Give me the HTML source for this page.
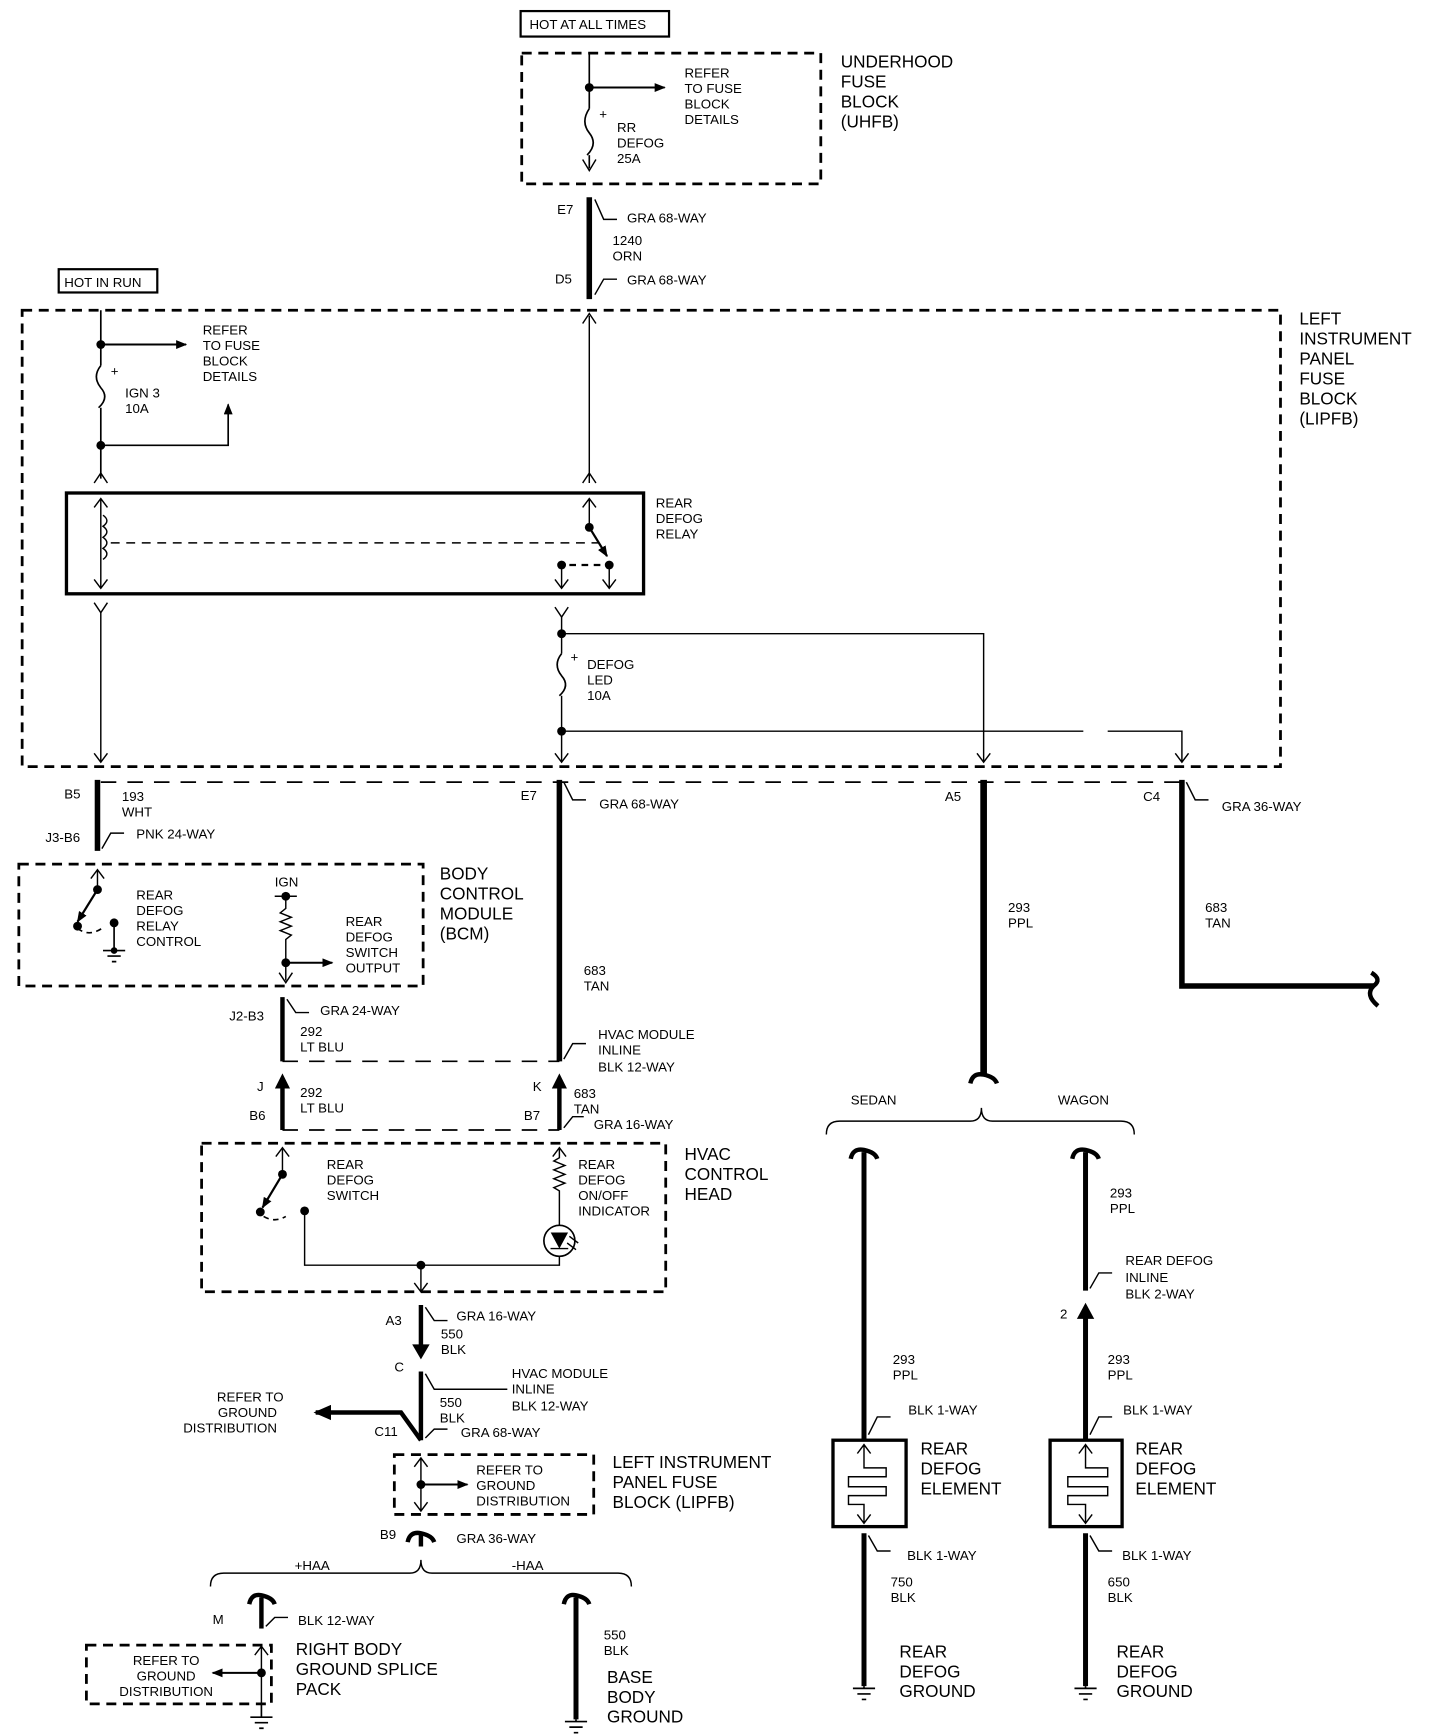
<!DOCTYPE html>
<html><head><meta charset="utf-8"><style>
html,body{margin:0;padding:0;background:#fff;}
svg{display:block}
text{font-family:"Liberation Sans",sans-serif;font-size:12px;fill:#000;}
.b{font-size:15.5px}
</style></head><body>
<svg width="1440" height="1736" viewBox="0 0 1300 1567" preserveAspectRatio="none" xmlns="http://www.w3.org/2000/svg">
<defs>
<marker id="ah" markerWidth="10" markerHeight="8" refX="9" refY="4" orient="auto" markerUnits="userSpaceOnUse"><path d="M0,0 L10,4 L0,8 Z" fill="#000"/></marker>
<marker id="bh" markerWidth="16" markerHeight="14" refX="14" refY="7" orient="auto" markerUnits="userSpaceOnUse"><path d="M0,0 L16,7 L0,14 Z" fill="#000"/></marker>
</defs>
<g fill="none" stroke="#000">
<rect x="470" y="10" width="134" height="23" stroke-width="2"/>
<rect x="471" y="48" width="270" height="118" stroke-width="2.5" stroke-dasharray="9,6"/>
<path d="M532,48 V98 M532,140 V152" stroke-width="1.5"/>
<path d="M532,98 q-8,12 0,22 q8,10 -2,20" stroke-width="1.5"/>
<path d="M532,79 H600" stroke-width="1.8" marker-end="url(#ah)"/>
<path d="M526,144 L532,154 L538,144" stroke-width="1.3"/>
<path d="M532,178 V270" stroke-width="5"/>
<path d="M537,180 l8,18 h12 M537,266 l8,-14 h12" stroke-width="1.3"/>
<rect x="53" y="243" width="89" height="21" stroke-width="2"/>
<rect x="20" y="280" width="1136" height="412" stroke-width="2.5" stroke-dasharray="9,6"/>
<path d="M91,280 V330 M91,368 V432" stroke-width="1.5"/>
<path d="M91,330 q-8,10 0,20 q8,9 -2,18" stroke-width="1.5"/>
<path d="M91,311 H168" stroke-width="1.8" marker-end="url(#ah)"/>
<path d="M91,402 H206 V365" stroke-width="1.5" marker-end="url(#ah)"/>
<path d="M85,436 L91,427 L97,436" stroke-width="1.3"/>
<path d="M532,436 V285" stroke-width="1.3"/>
<path d="M526,292 L532,283 L538,292 M526,436 L532,427 L538,436" stroke-width="1.3"/>
<rect x="60" y="445" width="521" height="91" stroke-width="3"/>
<path d="M91,450 V530 M85,458 L91,450 L97,458 M85,523 L91,531 L97,523" stroke-width="1.3"/>
<path d="M93,465 q7,5 0,10 q7,5 0,10 q7,5 0,10 q7,5 0,10" stroke-width="1.3"/>
<path d="M100,490 H540" stroke-width="1.3" stroke-dasharray="8,6"/>
<path d="M532,450 V476 M526,458 L532,450 L538,458" stroke-width="1.3"/>
<path d="M532,476 L548,502" stroke-width="2" marker-end="url(#ah)"/>
<path d="M514,510 H544" stroke-width="2" stroke-dasharray="6,5"/>
<path d="M507,510 V530 M550,510 V530 M501,523 L507,531 L513,523 M544,523 L550,531 L556,523" stroke-width="1.3"/>
<path d="M85,544 L91,553 L97,544 M501,548 L507,557 L513,548" stroke-width="1.3"/>
<path d="M91,553 V688 M85,680 L91,688 L97,680" stroke-width="1.3"/>
<path d="M507,557 V590 M507,628 V688 M501,680 L507,688 L513,680" stroke-width="1.3"/>
<path d="M507,590 q-8,10 0,20 q8,9 -2,18" stroke-width="1.5"/>
<path d="M507,572 H888 V688 M882,680 L888,688 L894,680" stroke-width="1.3"/>
<path d="M507,660 H978 M1000,660 H1067 V688 M1061,680 L1067,688 L1073,680" stroke-width="1.3"/>
<path d="M91,706 H1067" stroke-width="1.5" stroke-dasharray="14,10"/>
<path d="M88,704 V768" stroke-width="5"/>
<path d="M92,766 l8,-14 h12" stroke-width="1.3"/>
<path d="M505,704 V958" stroke-width="5"/>
<path d="M509,706 l8,16 h12 M509,956 l8,-14 h12" stroke-width="1.3"/>
<path d="M888,704 V970" stroke-width="6"/>
<path d="M876,978 q2,-10 12,-8 q10,2 12,8" stroke-width="4"/>
<path d="M1067,704 V890 H1240" stroke-width="5"/>
<path d="M1071,706 l8,16 h12" stroke-width="1.3"/>
<path d="M1238,878 q10,6 2,12 q-8,8 4,18" stroke-width="4"/>
<rect x="17" y="780" width="365" height="110" stroke-width="2.5" stroke-dasharray="9,6"/>
<path d="M88,803 V785 M82,793 L88,785 L94,793" stroke-width="1.3"/>
<path d="M88,803 L70,832" stroke-width="2" marker-end="url(#ah)"/>
<path d="M70,838 q10,8 22,0" stroke-width="1.5" stroke-dasharray="5,4"/>
<path d="M103,833 V858 M93,858 H113 M97,863 H109 M101,868 H105" stroke-width="1.5"/>
<path d="M248,809 H268 M258,809 V820 l-5,4 l10,4 l-10,4 l10,4 l-10,4 l10,4 l-5,4 V885 M252,878 L258,887 L264,878" stroke-width="1.3"/>
<path d="M258,869 H300" stroke-width="1.8" marker-end="url(#ah)"/>
<path d="M255,900 V958" stroke-width="4"/>
<path d="M259,902 l8,12 h12" stroke-width="1.3"/>
<path d="M255,958 H505" stroke-width="1.5" stroke-dasharray="14,10"/>
<path d="M255,974 V1020 M505,974 V1020" stroke-width="4"/>
<path d="M249,982 L255,970 L261,982 Z M499,982 L505,970 L511,982 Z" fill="#000" stroke-width="1"/>
<path d="M509,1018 l8,-10 h10" stroke-width="1.3"/>
<path d="M255,1020 H505" stroke-width="1.5" stroke-dasharray="14,10"/>
<rect x="182" y="1032" width="419" height="134" stroke-width="2.5" stroke-dasharray="9,6"/>
<path d="M255,1036 V1060 M249,1044 L255,1036 L261,1044" stroke-width="1.3"/>
<path d="M255,1060 L237,1090" stroke-width="2" marker-end="url(#ah)"/>
<path d="M238,1098 q10,6 20,0" stroke-width="1.5" stroke-dasharray="5,4"/>
<path d="M275,1093 V1142 H505 V1134" stroke-width="1.3"/>
<path d="M505,1036 V1045 l-5,3 l10,4 l-10,4 l10,4 l-10,4 l10,4 l-10,4 l5,3 V1106 M499,1044 L505,1036 L511,1044" stroke-width="1.3"/>
<circle cx="505" cy="1120" r="14" stroke-width="1.5"/>
<path d="M498,1113 H512 L505,1126 Z" fill="#000" stroke-width="1"/>
<path d="M497,1127 H513 M512,1122 l8,6 M514,1116 l8,6" stroke-width="1.3"/>
<path d="M380,1142 V1166 M374,1158 L380,1166 L386,1158" stroke-width="1.3"/>
<path d="M380,1178 V1222" stroke-width="4"/>
<path d="M373,1214 L380,1226 L387,1214 Z" fill="#000" stroke-width="1"/>
<path d="M384,1180 l8,12 h12" stroke-width="1.3"/>
<path d="M380,1238 V1300" stroke-width="4"/>
<path d="M384,1240 l8,14 H458 M384,1298 l8,-8 h12" stroke-width="1.3"/>
<path d="M380,1300 L362,1275 H285" stroke-width="4" marker-end="url(#bh)"/>
<rect x="356" y="1313" width="180" height="54" stroke-width="2.5" stroke-dasharray="9,6"/>
<path d="M380,1316 V1364 M374,1324 L380,1316 L386,1324 M374,1356 L380,1364 L386,1356" stroke-width="1.3"/>
<path d="M380,1340 H422" stroke-width="1.8" marker-end="url(#ah)"/>
<path d="M368,1392 q2,-10 12,-8 q10,2 12,8 M380,1384 V1396" stroke-width="4"/>
<path d="M190,1432 q0,-12 12,-12 H370 q10,0 10,-12 q0,12 10,12 H558 q12,0 12,12" stroke-width="1.3"/>
<path d="M236,1442 V1470" stroke-width="4"/>
<path d="M225,1448 q2,-10 11,-8 q10,2 12,8" stroke-width="4"/>
<path d="M240,1468 l8,-8 h12" stroke-width="1.3"/>
<rect x="78" y="1485" width="167" height="53" stroke-width="2.5" stroke-dasharray="9,6"/>
<path d="M236,1486 V1538 M230,1494 L236,1486 L242,1494" stroke-width="1.3"/>
<path d="M236,1510 H192" stroke-width="1.8" marker-end="url(#ah)"/>
<path d="M236,1538 V1550 M226,1550 H246 M230,1555 H242 M234,1560 H238" stroke-width="1.5"/>
<path d="M520,1442 V1552" stroke-width="4.5"/>
<path d="M509,1448 q2,-10 11,-8 q10,2 12,8" stroke-width="4"/>
<path d="M520,1552 V1554 M510,1554 H530 M514,1559 H526 M518,1564 H522" stroke-width="1.5"/>
<path d="M746,1024 q0,-12 12,-12 H876 q10,0 10,-12 q0,12 10,12 H1012 q12,0 12,12" stroke-width="1.3"/>
<path d="M780,1040 V1300" stroke-width="4.5"/>
<path d="M768,1046 q2,-10 12,-8 q10,2 12,8" stroke-width="4"/>
<path d="M784,1295 l8,-16 h12" stroke-width="1.3"/>
<rect x="752" y="1300" width="66" height="78" stroke-width="3"/>
<path d="M780,1304 V1325 H800 V1333 H766 V1342 H800 V1350 H766 V1358 H780 V1375 M774,1312 L780,1304 L786,1312 M774,1367 L780,1375 L786,1367" stroke-width="1.3"/>
<path d="M780,1384 V1522" stroke-width="4.5"/>
<path d="M784,1386 l8,14 h12" stroke-width="1.3"/>
<path d="M780,1522 V1524 M770,1524 H790 M774,1529 H786 M778,1534 H782" stroke-width="1.5"/>
<path d="M980,1040 V1165" stroke-width="4.5"/>
<path d="M968,1046 q2,-10 12,-8 q10,2 12,8" stroke-width="4"/>
<path d="M984,1163 l8,-14 h12" stroke-width="1.3"/>
<path d="M980,1184 V1300" stroke-width="4.5"/>
<path d="M973,1190 L980,1177 L987,1190 Z" fill="#000" stroke-width="1"/>
<path d="M984,1295 l8,-16 h12" stroke-width="1.3"/>
<rect x="948" y="1300" width="65" height="78" stroke-width="3"/>
<path d="M980,1304 V1325 H1000 V1333 H964 V1342 H1000 V1350 H964 V1358 H980 V1375 M974,1312 L980,1304 L986,1312 M974,1367 L980,1375 L986,1367" stroke-width="1.3"/>
<path d="M980,1384 V1522" stroke-width="4.5"/>
<path d="M984,1386 l8,14 h12" stroke-width="1.3"/>
<path d="M980,1522 V1524 M970,1524 H990 M974,1529 H986 M978,1534 H982" stroke-width="1.5"/>
</g>
<g fill="#000">
<circle cx="532" cy="79" r="4"/><circle cx="91" cy="311" r="4"/><circle cx="91" cy="402" r="4"/>
<circle cx="532" cy="476" r="4"/><circle cx="507" cy="510" r="4"/><circle cx="550" cy="510" r="4"/>
<circle cx="507" cy="572" r="4"/><circle cx="507" cy="660" r="4"/>
<circle cx="88" cy="803" r="4"/><circle cx="70" cy="836" r="4"/><circle cx="103" cy="833" r="4"/><circle cx="103" cy="858" r="3"/>
<circle cx="258" cy="809" r="4"/><circle cx="258" cy="869" r="4"/>
<circle cx="255" cy="1060" r="4"/><circle cx="235" cy="1094" r="4"/><circle cx="275" cy="1093" r="4"/>
<circle cx="380" cy="1142" r="4"/><circle cx="380" cy="1340" r="4"/><circle cx="236" cy="1510" r="4"/>
</g>
<text x="478" y="26">HOT AT ALL TIMES</text>
<text x="618" y="70">REFER</text><text x="618" y="84">TO FUSE</text><text x="618" y="98">BLOCK</text><text x="618" y="112">DETAILS</text>
<text x="541" y="107">+</text>
<text x="557" y="119">RR</text><text x="557" y="133">DEFOG</text><text x="557" y="147">25A</text>
<text class="b" x="759" y="61">UNDERHOOD</text><text class="b" x="759" y="79">FUSE</text><text class="b" x="759" y="97">BLOCK</text><text class="b" x="759" y="115">(UHFB)</text>
<text x="503" y="193">E7</text><text x="566" y="201">GRA 68-WAY</text>
<text x="553" y="221">1240</text><text x="553" y="235">ORN</text>
<text x="501" y="256">D5</text><text x="566" y="257">GRA 68-WAY</text>
<text x="58" y="259">HOT IN RUN</text>
<text x="183" y="302">REFER</text><text x="183" y="316">TO FUSE</text><text x="183" y="330">BLOCK</text><text x="183" y="344">DETAILS</text>
<text x="100" y="339">+</text><text x="113" y="359">IGN 3</text><text x="113" y="373">10A</text>
<text class="b" x="1173" y="293">LEFT</text><text class="b" x="1173" y="311">INSTRUMENT</text><text class="b" x="1173" y="329">PANEL</text><text class="b" x="1173" y="347">FUSE</text><text class="b" x="1173" y="365">BLOCK</text><text class="b" x="1173" y="383">(LIPFB)</text>
<text x="592" y="458">REAR</text><text x="592" y="472">DEFOG</text><text x="592" y="486">RELAY</text>
<text x="515" y="597">+</text><text x="530" y="604">DEFOG</text><text x="530" y="618">LED</text><text x="530" y="632">10A</text>
<text x="58" y="721">B5</text><text x="110" y="723">193</text><text x="110" y="737">WHT</text>
<text x="41" y="760">J3-B6</text><text x="123" y="757">PNK 24-WAY</text>
<text x="470" y="722">E7</text><text x="541" y="730">GRA 68-WAY</text>
<text x="853" y="723">A5</text><text x="1032" y="723">C4</text><text x="1103" y="732">GRA 36-WAY</text>
<text x="910" y="823">293</text><text x="910" y="837">PPL</text>
<text x="1088" y="823">683</text><text x="1088" y="837">TAN</text>
<text x="123" y="812">REAR</text><text x="123" y="826">DEFOG</text><text x="123" y="840">RELAY</text><text x="123" y="854">CONTROL</text>
<text x="248" y="800">IGN</text>
<text x="312" y="836">REAR</text><text x="312" y="850">DEFOG</text><text x="312" y="864">SWITCH</text><text x="312" y="878">OUTPUT</text>
<text class="b" x="397" y="794">BODY</text><text class="b" x="397" y="812">CONTROL</text><text class="b" x="397" y="830">MODULE</text><text class="b" x="397" y="848">(BCM)</text>
<text x="527" y="880">683</text><text x="527" y="894">TAN</text>
<text x="207" y="921">J2-B3</text><text x="289" y="916">GRA 24-WAY</text>
<text x="271" y="935">292</text><text x="271" y="949">LT BLU</text>
<text x="540" y="938">HVAC MODULE</text><text x="540" y="952">INLINE</text><text x="540" y="967">BLK 12-WAY</text>
<text x="232" y="985">J</text><text x="271" y="990">292</text><text x="271" y="1004">LT BLU</text><text x="225" y="1011">B6</text>
<text x="481" y="985">K</text><text x="518" y="991">683</text><text x="518" y="1005">TAN</text><text x="473" y="1011">B7</text><text x="536" y="1019">GRA 16-WAY</text>
<text x="295" y="1055">REAR</text><text x="295" y="1069">DEFOG</text><text x="295" y="1083">SWITCH</text>
<text x="522" y="1055">REAR</text><text x="522" y="1069">DEFOG</text><text x="522" y="1083">ON/OFF</text><text x="522" y="1097">INDICATOR</text>
<text class="b" x="618" y="1047">HVAC</text><text class="b" x="618" y="1065">CONTROL</text><text class="b" x="618" y="1083">HEAD</text>
<text x="348" y="1196">A3</text><text x="412" y="1192">GRA 16-WAY</text><text x="398" y="1208">550</text><text x="398" y="1222">BLK</text>
<text x="356" y="1238">C</text><text x="462" y="1244">HVAC MODULE</text><text x="462" y="1258">INLINE</text><text x="462" y="1273">BLK 12-WAY</text>
<text x="397" y="1270">550</text><text x="397" y="1284">BLK</text><text x="338" y="1296">C11</text><text x="416" y="1297">GRA 68-WAY</text>
<text x="256" y="1265" text-anchor="end">REFER TO</text><text x="250" y="1279" text-anchor="end">GROUND</text><text x="250" y="1293" text-anchor="end">DISTRIBUTION</text>
<text x="430" y="1331">REFER TO</text><text x="430" y="1345">GROUND</text><text x="430" y="1359">DISTRIBUTION</text>
<text class="b" x="553" y="1325">LEFT INSTRUMENT</text><text class="b" x="553" y="1343">PANEL FUSE</text><text class="b" x="553" y="1361">BLOCK (LIPFB)</text>
<text x="343" y="1389">B9</text><text x="412" y="1393">GRA 36-WAY</text>
<text x="266" y="1417">+HAA</text><text x="462" y="1417">-HAA</text>
<text x="192" y="1466">M</text><text x="269" y="1467">BLK 12-WAY</text>
<text x="150" y="1503" text-anchor="middle">REFER TO</text><text x="150" y="1517" text-anchor="middle">GROUND</text><text x="150" y="1531" text-anchor="middle">DISTRIBUTION</text>
<text class="b" x="267" y="1494">RIGHT BODY</text><text class="b" x="267" y="1512">GROUND SPLICE</text><text class="b" x="267" y="1530">PACK</text>
<text x="545" y="1480">550</text><text x="545" y="1494">BLK</text>
<text class="b" x="548" y="1519">BASE</text><text class="b" x="548" y="1537">BODY</text><text class="b" x="548" y="1555">GROUND</text>
<text x="768" y="997">SEDAN</text><text x="955" y="997">WAGON</text>
<text x="806" y="1231">293</text><text x="806" y="1245">PPL</text><text x="820" y="1277">BLK 1-WAY</text>
<text class="b" x="831" y="1313">REAR</text><text class="b" x="831" y="1331">DEFOG</text><text class="b" x="831" y="1349">ELEMENT</text>
<text x="819" y="1408">BLK 1-WAY</text><text x="804" y="1432">750</text><text x="804" y="1446">BLK</text>
<text class="b" x="812" y="1496">REAR</text><text class="b" x="812" y="1514">DEFOG</text><text class="b" x="812" y="1532">GROUND</text>
<text x="1002" y="1081">293</text><text x="1002" y="1095">PPL</text>
<text x="1016" y="1142">REAR DEFOG</text><text x="1016" y="1157">INLINE</text><text x="1016" y="1172">BLK 2-WAY</text>
<text x="957" y="1190">2</text><text x="1000" y="1231">293</text><text x="1000" y="1245">PPL</text><text x="1014" y="1277">BLK 1-WAY</text>
<text class="b" x="1025" y="1313">REAR</text><text class="b" x="1025" y="1331">DEFOG</text><text class="b" x="1025" y="1349">ELEMENT</text>
<text x="1013" y="1408">BLK 1-WAY</text><text x="1000" y="1432">650</text><text x="1000" y="1446">BLK</text>
<text class="b" x="1008" y="1496">REAR</text><text class="b" x="1008" y="1514">DEFOG</text><text class="b" x="1008" y="1532">GROUND</text>
</svg>
</body></html>
